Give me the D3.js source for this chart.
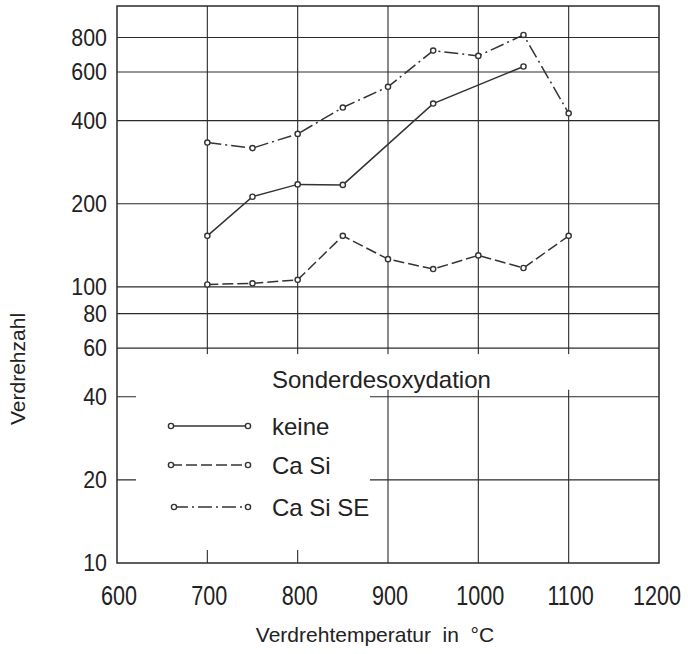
<!DOCTYPE html>
<html>
<head>
<meta charset="utf-8">
<script src="https://cdn.jsdelivr.net/npm/d3@7"></script>
<style>
  html, body { margin: 0; padding: 0; background: #fff; }
  svg text { font-family: "Liberation Sans", Arial, sans-serif; fill: #222; }
</style>
</head>
<body>
<svg id="chart" width="688" height="654"></svg>
<script>
// values
const tempKeine = [700, 750, 800, 850, 950, 1050];
const valKeine  = [153, 212, 235, 234, 461, 628];

const tempCaSi = [700, 750, 800, 850, 900, 950, 1000, 1050, 1100];
const valCaSi  = [102, 103, 106, 153, 126, 116, 130, 117, 153];

const tempCaSiSE = [700, 750, 800, 850, 900, 950, 1000, 1050, 1100];
const valCaSiSE  = [333, 318, 358, 446, 530, 717, 686, 817, 425];

const xTicks = [600, 700, 800, 900, 1000, 1100, 1200];
const yTicks = [10, 20, 40, 60, 80, 100, 200, 400, 600, 800];

const legendTitle = "Sonderdesoxydation";
const seriesNames = ["keine", "Ca Si", "Ca Si SE"];

const ink = "#2a2a2a";

const svg = d3.select("#chart");

const x = d3.scaleLinear().domain([600, 1200]).range([117, 659]);
const y = d3.scaleLog().domain([10, 1040]).range([563, 6]);

// squeeze text horizontally (the original lettering is narrow)
function squeeze(sel, f) {
  sel.each(function() {
    const w = this.getComputedTextLength();
    d3.select(this).attr("textLength", w * f).attr("lengthAdjust", "spacingAndGlyphs");
  });
}

// grid
const grid = svg.append("g").attr("stroke", ink).attr("stroke-width", 1.1);
grid.selectAll(".vx")
  .data(xTicks.slice(1, -1))
  .enter().append("line")
  .attr("x1", d => x(d)).attr("x2", d => x(d))
  .attr("y1", y.range()[1]).attr("y2", y.range()[0]);
grid.selectAll(".hy")
  .data(yTicks.slice(1))
  .enter().append("line")
  .attr("x1", x.range()[0]).attr("x2", x.range()[1])
  .attr("y1", d => y(d)).attr("y2", d => y(d));

// blank area for the legend (grid is interrupted there)
const boxTop = y(60) + 6;
svg.append("rect")
  .attr("x", x(621)).attr("y", boxTop)
  .attr("width", x(880) - x(621)).attr("height", (y(10) - 13) - boxTop)
  .attr("fill", "#fff");
svg.append("rect")
  .attr("x", x(880)).attr("y", boxTop)
  .attr("width", x(1200) - 1 - x(880)).attr("height", (y(40) - 7) - boxTop)
  .attr("fill", "#fff");

// frame
svg.append("rect")
  .attr("x", x.range()[0]).attr("y", y.range()[1])
  .attr("width", x.range()[1] - x.range()[0])
  .attr("height", y.range()[0] - y.range()[1])
  .attr("fill", "none").attr("stroke", ink).attr("stroke-width", 1.5);

// tick labels
svg.append("g").selectAll("text")
  .data(yTicks)
  .enter().append("text")
  .attr("x", 107).attr("y", d => y(d)).attr("dy", "0.36em")
  .attr("text-anchor", "end").attr("font-size", 23)
  .text(d => d)
  .call(squeeze, 0.93);

const lastX = xTicks[xTicks.length - 1];
svg.append("g").selectAll("text")
  .data(xTicks)
  .enter().append("text")
  .attr("x", d => d === lastX ? 681 : x(d) + 2).attr("y", 605)
  .attr("text-anchor", d => d === lastX ? "end" : "middle")
  .attr("font-size", 27)
  .text(d => d)
  .call(squeeze, 0.8);

// axis titles
svg.append("text")
  .attr("x", 375).attr("y", 642)
  .attr("text-anchor", "middle").attr("font-size", 21)
  .style("white-space", "pre")
  .text("Verdrehtemperatur  in  °C");

svg.append("text")
  .attr("transform", "translate(25,369) rotate(-90)")
  .attr("text-anchor", "middle").attr("font-size", 21)
  .text("Verdrehzahl");

// series
const series = [
  { name: seriesNames[0], t: tempKeine,  v: valKeine,  dash: null },
  { name: seriesNames[1], t: tempCaSi,   v: valCaSi,   dash: "11,4" },
  { name: seriesNames[2], t: tempCaSiSE, v: valCaSiSE, dash: "14,4,2,4" }
];

const line = d3.line().x(d => x(d[0])).y(d => y(d[1]));

series.forEach(s => {
  const pts = s.t.map((t, i) => [t, s.v[i]]);
  svg.append("path")
    .datum(pts)
    .attr("d", line)
    .attr("fill", "none")
    .attr("stroke", "#333")
    .attr("stroke-width", 1.5)
    .attr("stroke-dasharray", s.dash);
  svg.append("g").selectAll("circle")
    .data(pts)
    .enter().append("circle")
    .attr("cx", d => x(d[0])).attr("cy", d => y(d[1]))
    .attr("r", 2.6)
    .attr("fill", "#fff").attr("stroke", "#333").attr("stroke-width", 1.4);
});

// legend
svg.append("text")
  .attr("x", 272).attr("y", 388)
  .attr("font-size", 24)
  .text(legendTitle);

const rowY = [426, 465, 507];
const leg = svg.append("g");
series.forEach((s, i) => {
  const x0 = i === 2 ? 174 : 171, x1 = 248;
  leg.append("line")
    .attr("x1", x0).attr("x2", x1)
    .attr("y1", rowY[i]).attr("y2", rowY[i])
    .attr("stroke", "#333").attr("stroke-width", 1.5)
    .attr("stroke-dasharray", s.dash);
  [x0, x1].forEach(cx => {
    leg.append("circle")
      .attr("cx", cx).attr("cy", rowY[i]).attr("r", 2.6)
      .attr("fill", "#fff").attr("stroke", "#333").attr("stroke-width", 1.4);
  });
  leg.append("text")
    .attr("x", 272).attr("y", rowY[i] + 9)
    .attr("font-size", 24)
    .text(s.name);
});
</script>
</body>
</html>
